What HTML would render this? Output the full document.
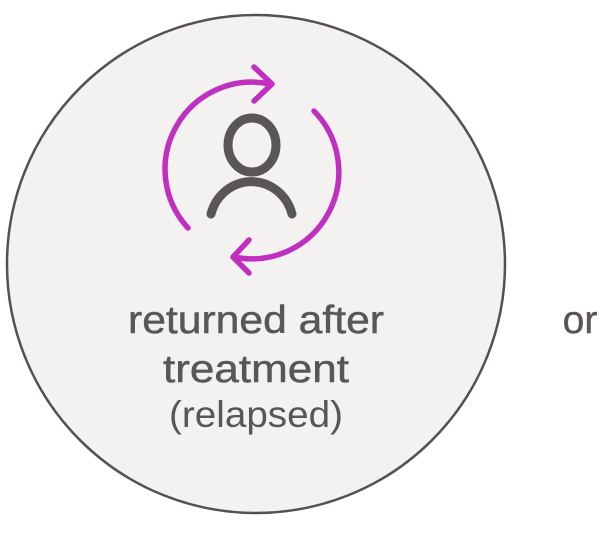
<!DOCTYPE html>
<html><head><style>
html,body{margin:0;padding:0;background:#fff;}
body{width:600px;height:529px;overflow:hidden;}
</style></head><body>
<svg width="600" height="529" viewBox="0 0 600 529" xmlns="http://www.w3.org/2000/svg">
<circle cx="256" cy="264" r="249" fill="#f4f2f1" stroke="#555152" stroke-width="2.5"/>
<g fill="none" stroke="#c02fbf" stroke-width="5.5" stroke-linecap="round" stroke-linejoin="round">
<path d="M188 228 A87 87 0 0 1 270 84"/>
<path d="M254 67 L272 84 L254 101"/>
<path d="M314 111 A87 87 0 0 1 234 257"/>
<path d="M249 240 L233 257 L249 273"/>
</g>
<g fill="none" stroke="#5a5657" stroke-width="9" stroke-linecap="round">
<ellipse cx="252" cy="145" rx="24" ry="27"/>
<path d="M211 214 A42 44 0 0 1 292 214"/>
</g>
<g font-family="Liberation Sans, sans-serif" fill="#5a5657" text-anchor="middle">
<text x="256" y="333" font-size="39" stroke="#5a5657" stroke-width="0.5" textLength="256" lengthAdjust="spacingAndGlyphs">returned after</text>
<text x="256" y="382" font-size="39" stroke="#5a5657" stroke-width="0.5" textLength="186" lengthAdjust="spacingAndGlyphs">treatment</text>
<text x="256" y="427" font-size="37" textLength="174" lengthAdjust="spacingAndGlyphs">(relapsed)</text>
<text x="580" y="333" font-size="39" stroke="#5a5657" stroke-width="0.4">or</text>
</g>
</svg>
</body></html>
